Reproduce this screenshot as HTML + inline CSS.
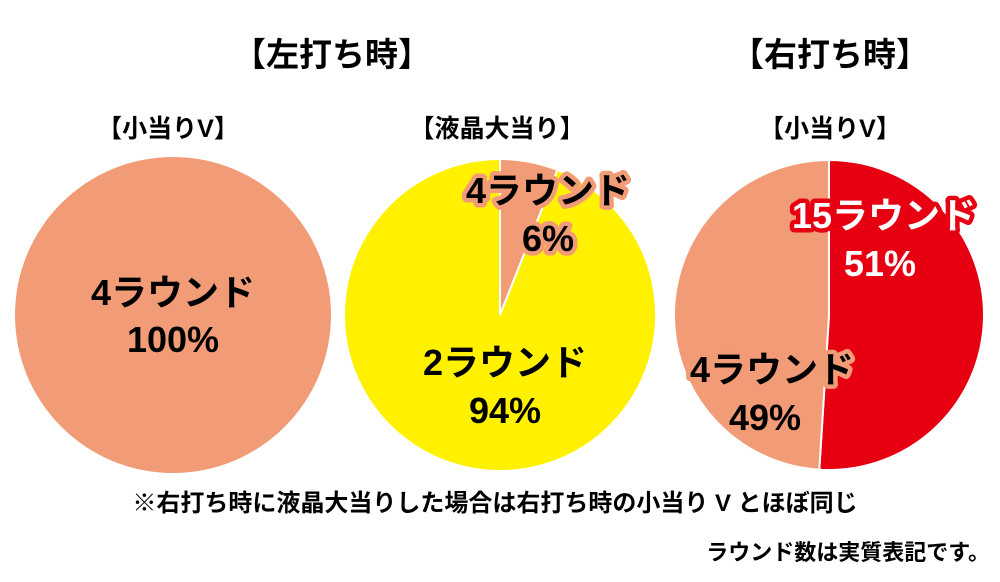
<!DOCTYPE html>
<html><head><meta charset="utf-8"><style>
body{margin:0;width:1000px;height:577px;background:#fff;overflow:hidden}
svg text{font-family:"Liberation Sans","Noto Sans CJK JP",sans-serif;font-weight:bold}
.lbl{paint-order:stroke;stroke-linejoin:round}
</style></head><body>
<svg width="1000" height="577" viewBox="0 0 1000 577">
<text x="332" y="66" font-size="33" text-anchor="middle">【左打ち時】</text>
<text x="830" y="66" font-size="33" text-anchor="middle">【右打ち時】</text>
<text x="168" y="137" font-size="25" text-anchor="middle">【小当りV】</text>
<text x="497" y="137" font-size="25" text-anchor="middle">【液晶大当り】</text>
<text x="830" y="137" font-size="25" text-anchor="middle">【小当りV】</text>
<g id="pies"></g>
<text class="lbl" x="173" y="305" font-size="36" text-anchor="middle">4ラウンド</text>
<text class="lbl" x="173" y="352" font-size="36" text-anchor="middle">100%</text>
<text class="lbl" x="548" y="203" font-size="36" text-anchor="middle" stroke="#F19B77" stroke-width="9">4ラウンド</text>
<text class="lbl" x="548" y="251" font-size="36" text-anchor="middle" stroke="#F19B77" stroke-width="9">6%</text>
<text class="lbl" x="505" y="375" font-size="36" text-anchor="middle">2ラウンド</text>
<text class="lbl" x="505" y="423" font-size="36" text-anchor="middle">94%</text>
<text class="lbl" x="884" y="228" font-size="36" text-anchor="middle" fill="#fff" stroke="#E60012" stroke-width="9">15ラウンド</text>
<text class="lbl" x="880" y="276" font-size="36" text-anchor="middle" fill="#fff" stroke="#E60012" stroke-width="9">51%</text>
<text class="lbl" x="772" y="382" font-size="36" text-anchor="middle" stroke="#F19B77" stroke-width="9">4ラウンド</text>
<text class="lbl" x="765" y="430" font-size="36" text-anchor="middle" stroke="#F19B77" stroke-width="9">49%</text>
<text x="495" y="511" font-size="24" text-anchor="middle">※右打ち時に液晶大当りした場合は右打ち時の小当り V とほぼ同じ</text>
<text x="990" y="560" font-size="22" text-anchor="end">ラウンド数は実質表記です。</text>
</svg>
<script>
const pie1Values=[100];
const pie2Values=[6,94];
const pie3Values=[51,49];
const pieDefs=[
 {vals:pie1Values,cx:173,cy:315,r:158,colors:['#F19B77'],name:'pie1'},
 {vals:pie2Values,cx:500,cy:315,r:156,colors:['#F19B77','#FFF100'],name:'pie2'},
 {vals:pie3Values,cx:829,cy:315,r:155,colors:['#E60012','#F19B77'],name:'pie3'}];
const NS='http://www.w3.org/2000/svg';
const g=document.getElementById('pies');
pieDefs.forEach(p=>{
 const tot=p.vals.reduce((a,b)=>a+b,0);let a0=0;
 p.vals.forEach((v,i)=>{
  const a1=a0+v/tot*2*Math.PI;let el;
  if(v/tot>=0.9999){el=document.createElementNS(NS,'circle');el.setAttribute('cx',p.cx);el.setAttribute('cy',p.cy);el.setAttribute('r',p.r);}
  else{
   const x0=p.cx+p.r*Math.sin(a0),y0=p.cy-p.r*Math.cos(a0),x1=p.cx+p.r*Math.sin(a1),y1=p.cy-p.r*Math.cos(a1);
   el=document.createElementNS(NS,'path');
   el.setAttribute('d',`M${p.cx},${p.cy}L${x0},${y0}A${p.r},${p.r} 0 ${a1-a0>Math.PI?1:0} 1 ${x1},${y1}Z`);
   el.setAttribute('stroke','#fff');el.setAttribute('stroke-width','2');
  }
  el.setAttribute('fill',p.colors[i]);
  
  
  g.appendChild(el);a0=a1;
 });
});
</script>
</body></html>
